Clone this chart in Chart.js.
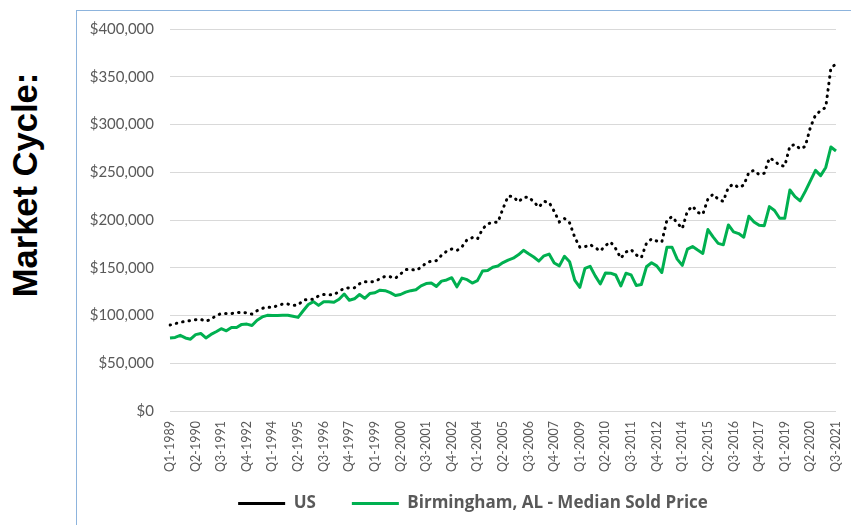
<!DOCTYPE html>
<html>
<head>
<meta charset="utf-8">
<script src="https://cdn.jsdelivr.net/npm/chart.js@4.4.1/dist/chart.umd.min.js"></script>
<style>
    html, body { margin: 0; padding: 0; background: #fff; }
    #wrap { position: relative; width: 851px; height: 525px; overflow: hidden; }
    #frame {
        position: absolute; left: 76px; top: 10px; width: 780px; height: 520px;
        border-left: 1px solid #8db4dd; border-top: 1px solid #8db4dd;
    }
    #side {
        position: absolute; left: 25px; top: 185px;
        transform: translate(-50%, -50%) rotate(-90deg);
        font: bold 34.5px "Liberation Sans", Arial, sans-serif; color: #000;
        white-space: nowrap; line-height: 35px;
    }
    canvas { position: absolute; left: 0; top: 0; }
</style>
</head>
<body>
<div id="wrap">
    <div id="frame"></div>
    <div id="side">Market Cycle:</div>
    <canvas id="chart" width="851" height="525"></canvas>
</div>
<script>
// quarters Q1-1989 .. Q3-2021
const firstYear = 1989
const lastYear = 2021
const lastQuarter = 3
const quarters = []
for (let y = firstYear; y <= lastYear; y++) {
    for (let q = 1; q <= 4; q++) {
        if (y === lastYear && q > lastQuarter) break
        quarters.push('Q' + q + '-' + y)
    }
}
const labelEvery = 5

const usPrice = [
    90000, 91500, 92800, 94000, 94700, 95600, 96000, 94000, 96000, 100000,
    102000, 102000, 102000, 103000, 103200, 102800, 101500, 105000, 107500, 108800,
    108200, 110500, 112000, 112000, 110600, 111000, 116000, 117000, 117000, 120500,
    122000, 121600, 121800, 125200, 128500, 129000, 129000, 133200, 135400, 135000,
    135800, 138500, 141000, 140500, 139000, 143500, 148000, 148500, 147200, 150500,
    155000, 157000, 157500, 163000, 167300, 169600, 168000, 172000, 179500, 181500,
    180000, 190500, 196000, 197500, 197600, 212000, 225000, 224500, 219000, 223500,
    224200, 219000, 213500, 219500, 218500, 209000, 198000, 201600, 197000, 182000,
    171500, 172000, 174300, 171000, 167500, 173300, 177000, 170000, 160000, 166500,
    169000, 163500, 160500, 175600, 180200, 178000, 177000, 200000, 203500, 197000,
    191000, 209500, 214500, 208000, 206000, 222000, 227000, 221800, 219500, 234500,
    237500, 234000, 236500, 250000, 252000, 247500, 249000, 265000, 262000, 257000,
    256500, 277500, 279000, 274400, 277000, 297000, 310000, 314500, 318000, 359000,
    363500
]

const bhamPrice = [
    76500, 77000, 79200, 76500, 75200, 80000, 81200, 76500, 80200, 83000,
    86200, 84000, 87500, 87500, 90700, 91000, 89500, 95000, 98500, 100200,
    100000, 100000, 100200, 100200, 99200, 98000, 105000, 111500, 114500, 110600,
    114400, 114400, 113800, 117000, 122500, 116000, 117500, 122000, 118000, 123000,
    123800, 126500, 126000, 124000, 121000, 122000, 124500, 126000, 127000, 131000,
    133400, 134000, 130500, 136000, 137200, 139600, 130000, 139200, 137500, 134000,
    136500, 146500, 147200, 150600, 151800, 155400, 158000, 160000, 163600, 168300,
    164600, 161200, 157000, 162500, 164300, 155000, 152000, 162000, 156300, 137000,
    129500, 149400, 151500, 141500, 133000, 144500, 144300, 142400, 131000, 144200,
    142500, 131500, 132500, 151000, 155200, 152000, 145000, 171500, 171500, 159000,
    152500, 169500, 172200, 168500, 165000, 190000, 182300, 175500, 174000, 194800,
    187600, 185800, 182000, 204000, 198000, 194500, 194000, 214000, 210000, 201800,
    201800, 231400, 224400, 220000, 230000, 241000, 252000, 246500, 255000, 276400,
    272200
]

const seriesNames = ['US', 'Birmingham, AL - Median Sold Price']
const seriesColors = ['#000000', '#00b050']

const yMin = 0
const yMax = 400000
const yStep = 50000

const greyText = '#595959'

// legend sits higher and a bit right of where chart.js puts it
const legendShift = {
    id: 'legendShift',
    afterLayout(chart) {
        const lg = chart.legend
        lg.top = lg.bottom - 62
        lg.left += 11
        lg.right += 11
    }
}

const config = {
    type: 'line',
    data: {
        labels: quarters,
        datasets: [
            {
                label: seriesNames[0],
                data: usPrice,
                borderColor: seriesColors[0],
                backgroundColor: seriesColors[0],
                borderWidth: 3,
                borderDash: [0.5, 6],
                borderCapStyle: 'round',
                pointRadius: 0,
                pointStyle: 'line',
                tension: 0
            },
            {
                label: seriesNames[1],
                data: bhamPrice,
                borderColor: seriesColors[1],
                backgroundColor: seriesColors[1],
                borderWidth: 3,
                borderJoinStyle: 'round',
                pointRadius: 0,
                pointStyle: 'line',
                tension: 0
            }
        ]
    },
    options: {
        responsive: false,
        animation: false,
        devicePixelRatio: 1,
        layout: { padding: { left: 88, right: 15, top: 29, bottom: 4 } },
        plugins: {
            tooltip: { enabled: false },
            legend: {
                position: 'bottom',
                maxHeight: 45,
                labels: {
                    usePointStyle: true,
                    pointStyleWidth: 47,
                    padding: 36,
                    color: greyText,
                    font: { family: 'Open Sans', size: 17, weight: 'bold' }
                }
            }
        },
        scales: {
            x: {
                offset: false,
                grid: { display: false, drawTicks: false },
                border: { display: false },
                afterFit: (scale) => {
                    scale.height = 65
                    scale.paddingLeft = 0
                    scale.paddingRight = 0
                },
                ticks: {
                    autoSkip: false,
                    maxRotation: 90,
                    minRotation: 90,
                    padding: 10,
                    color: greyText,
                    font: { family: 'Lato', size: 12.5 },
                    callback: function (value, index) {
                        return index % labelEvery === 0 ? quarters[index] : null
                    }
                }
            },
            y: {
                min: yMin,
                max: yMax,
                grid: { color: '#d9d9d9', lineWidth: 1, drawTicks: false },
                border: { display: false },
                afterFit: (scale) => { scale.width = 82 },
                ticks: {
                    stepSize: yStep,
                    padding: 16,
                    color: greyText,
                    font: { family: 'Lato', size: 15 },
                    callback: (value) => '$' + value.toLocaleString('en-US')
                }
            }
        }
    },
    plugins: [legendShift]
}

new Chart(document.getElementById('chart').getContext('2d'), config)
</script>
</body>
</html>
